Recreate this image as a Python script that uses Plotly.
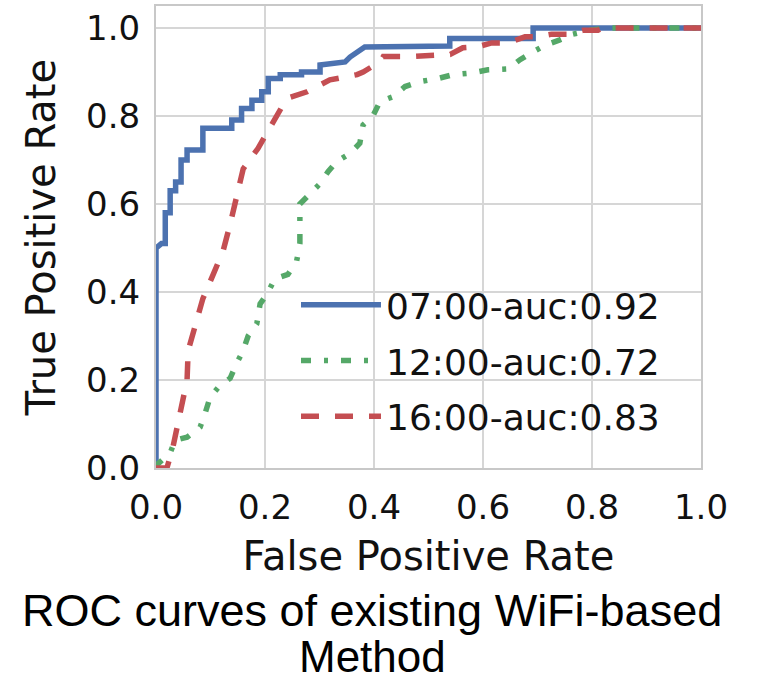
import plotly.graph_objects as go

# ---- data ----
labels = ["07:00-auc:0.92", "12:00-auc:0.72", "16:00-auc:0.83"]

fpr_0700 = [0.0, 0.0, 0.010, 0.017, 0.017, 0.026, 0.026, 0.036, 0.036, 0.046, 0.046, 0.057, 0.057,
            0.086, 0.086, 0.139, 0.139, 0.157, 0.157, 0.176, 0.176, 0.194, 0.194, 0.206, 0.206,
            0.228, 0.228, 0.267, 0.267, 0.301, 0.301, 0.347, 0.356, 0.371, 0.383, 0.539, 0.539,
            0.692, 0.692, 1.0]
tpr_0700 = [0.0, 0.50, 0.51, 0.51, 0.58, 0.58, 0.63, 0.63, 0.65, 0.65, 0.70, 0.70, 0.723,
            0.723, 0.772, 0.772, 0.791, 0.791, 0.817, 0.817, 0.836, 0.836, 0.855, 0.855, 0.885,
            0.885, 0.894, 0.894, 0.90, 0.90, 0.916, 0.923, 0.934, 0.946, 0.957, 0.959, 0.976,
            0.976, 1.0, 1.0]

fpr_1200 = [0.0, 0.004, 0.026, 0.035, 0.057, 0.081, 0.090, 0.099, 0.114, 0.136, 0.148, 0.160,
            0.169, 0.185, 0.191, 0.204, 0.218, 0.242, 0.258, 0.264, 0.264, 0.283, 0.300, 0.316,
            0.332, 0.356, 0.374, 0.380, 0.398, 0.411, 0.435, 0.457, 0.484, 0.517, 0.545, 0.580,
            0.609, 0.646, 0.668, 0.692, 0.714, 0.741, 0.765, 0.796, 0.829, 1.0]
tpr_1200 = [0.0, 0.010, 0.034, 0.063, 0.070, 0.093, 0.124, 0.160, 0.183, 0.204, 0.238, 0.267,
            0.300, 0.328, 0.373, 0.396, 0.430, 0.440, 0.470, 0.510, 0.600, 0.622, 0.645, 0.674,
            0.697, 0.715, 0.738, 0.780, 0.800, 0.833, 0.844, 0.867, 0.878, 0.885, 0.894, 0.898,
            0.905, 0.907, 0.928, 0.946, 0.961, 0.973, 0.986, 0.995, 1.0, 1.0]

fpr_1600 = [0.0, 0.020, 0.031, 0.044, 0.057, 0.059, 0.072, 0.086, 0.105, 0.123, 0.136, 0.148,
            0.160, 0.187, 0.209, 0.231, 0.240, 0.277, 0.319, 0.369, 0.380, 0.411, 0.417, 0.466,
            0.540, 0.563, 0.589, 0.616, 0.646, 0.677, 0.699, 0.726, 0.754, 0.784, 0.811, 0.820, 1.0]
tpr_1600 = [0.0, 0.0, 0.047, 0.130, 0.200, 0.267, 0.320, 0.385, 0.440, 0.493, 0.554, 0.613,
            0.680, 0.726, 0.776, 0.826, 0.840, 0.855, 0.882, 0.894, 0.900, 0.923, 0.935, 0.935,
            0.940, 0.955, 0.957, 0.966, 0.966, 0.980, 0.980, 0.986, 0.986, 0.995, 0.995, 1.0, 1.0]

tick_vals = [0.0, 0.2, 0.4, 0.6, 0.8, 1.0]
tick_text = ["0.0", "0.2", "0.4", "0.6", "0.8", "1.0"]

# ---- styles ----
BLUE, GREEN, RED = "#4C72B0", "#55A868", "#C44E52"
TXT = "#111111"
GRID = "#d6d6d6"

fig = go.Figure()
fig.add_trace(go.Scatter(x=fpr_0700, y=tpr_0700, mode="lines", name=labels[0], legendgroup="a",
                         line=dict(color=BLUE, width=5.5)))
fig.add_trace(go.Scatter(x=fpr_1200, y=tpr_1200, mode="lines", name=labels[1], legendgroup="b",
                         line=dict(color=GREEN, width=5.5, dash="10px,13px,4px,13px")))
fig.add_trace(go.Scatter(x=fpr_1600, y=tpr_1600, mode="lines", name=labels[2], legendgroup="c",
                         line=dict(color=RED, width=5.5, dash="18px,16px")))

axis_common = dict(
    showgrid=True, gridcolor=GRID, gridwidth=1.5,
    showline=True, linecolor="#c8c8c8", linewidth=2, mirror=True,
    zeroline=False, ticks="outside", tickcolor="rgba(0,0,0,0)",
    tickvals=tick_vals, ticktext=tick_text,
    tickfont=dict(family="DejaVu Sans", size=34, color=TXT),
)

fig.update_layout(
    width=764, height=684,
    margin=dict(l=156, r=63, t=4, b=216),
    paper_bgcolor="white", plot_bgcolor="white",
    xaxis=dict(range=[0, 1.0], ticklen=8, title=dict(text="False Positive Rate", standoff=16,
               font=dict(family="DejaVu Sans", size=40, color=TXT)), **axis_common),
    yaxis=dict(range=[0, 1.05], ticklen=7, title=dict(text="True Positive Rate", standoff=18,
               font=dict(family="DejaVu Sans", size=40, color=TXT)), **axis_common),
    legend=dict(x=(296 - 156) / 545, xanchor="left", y=(468 - 274) / 464, yanchor="top",
                bgcolor="rgba(0,0,0,0)", borderwidth=0, itemwidth=80, tracegroupgap=6,
                font=dict(family="DejaVu Sans", size=36, color=TXT)),
    showlegend=True,
)

fig.add_annotation(text="ROC curves of existing WiFi-based", xref="paper", yref="paper",
                   x=(372 - 156) / 545, y=(468 - 611) / 464, xanchor="center", yanchor="middle",
                   showarrow=False, font=dict(family="Liberation Sans", size=45, color="black"))
fig.add_annotation(text="Method", xref="paper", yref="paper",
                   x=(372 - 156) / 545, y=(468 - 657) / 464, xanchor="center", yanchor="middle",
                   showarrow=False, font=dict(family="Liberation Sans", size=44, color="black"))

fig.write_html("out.html", config={"displayModeBar": False},
               post_script="document.body.style.margin='0';")
